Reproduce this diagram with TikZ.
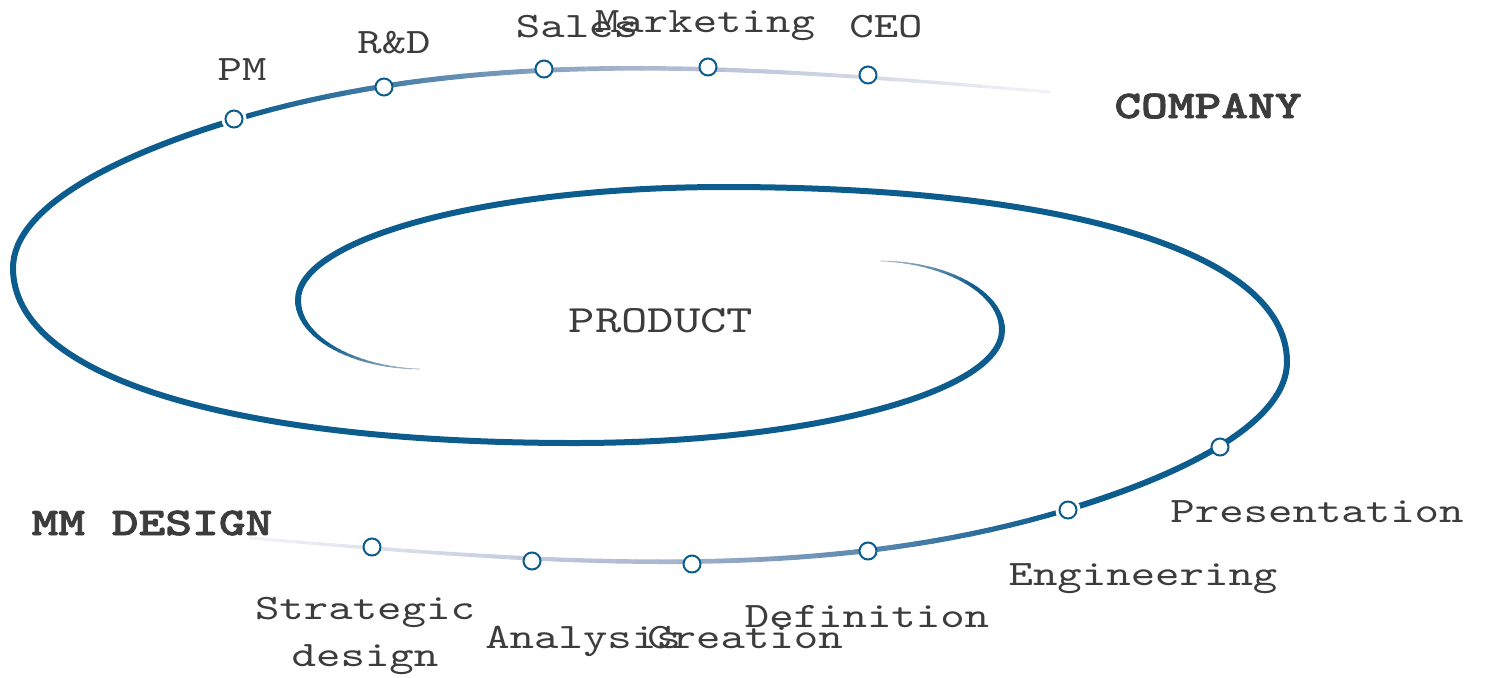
\documentclass[tikz,border=0pt]{standalone}
\usepackage{fontspec}
\newfontfamily\labelfont[Extension=.otf,UprightFont=lmmono10-regular,BoldFont=lmmonolt10-bold,BoldFeatures={FakeBold=2},FakeStretch=1.3]{lmmono10-regular}
\definecolor{spiral}{RGB}{12,92,142}
\definecolor{lavender}{RGB}{169,181,207}
\definecolor{fadeout}{RGB}{245,245,249}
\definecolor{tailgray}{RGB}{190,195,204}
\definecolor{labeltext}{RGB}{60,60,60}
\begin{document}
\begin{tikzpicture}[x=0.5pt,y=-0.5pt,
    stage/.style={circle,draw=spiral,fill=white,line width=1pt,minimum size=8.5pt,inner sep=0pt},
    halo/.style={preaction={draw=white,line width=4pt}},
    tag/.style={text=labeltext,inner sep=0pt,anchor=base,font=\labelfont\fontsize{17.9}{23.5}\selectfont},
    heading/.style={tag,font=\labelfont\bfseries\fontsize{19.6}{24}\selectfont}]
  \useasboundingbox (0,0) rectangle (1485,677);
  \foreach \rot in {0,180}{
    \begin{scope}[rotate around={\rot:(650,315)}]
      \draw[spiral,line width=3pt] (234,120) .. controls (114,156) and (13,208) .. (13,268)
        .. controls (13,378) and (235,443) .. (575,443)
        .. controls (811,443) and (1002,392) .. (1002,330);
      \path (234,120) .. controls (484,45) and (750,66.5) .. (1050,92)
        \foreach \i [evaluate=\i as \t using \i/40] in {0,...,40}{coordinate[pos=\t] (o\i)};
      \path (1002,330) .. controls (1002,292) and (945,262) .. (880,261)
        \foreach \i [evaluate=\i as \t using \i/24] in {0,...,24}{coordinate[pos=\t] (n\i)};
      \foreach \i in {0,...,39}{
        \pgfmathtruncatemacro\j{\i+1}
        \pgfmathtruncatemacro\p{min(100,5*\i)}
        \pgfmathtruncatemacro\q{max(0,5*\i-100)}
        \pgfmathsetmacro\w{2.6-1.2*(\i/40)^2}
        \draw[line width=\w pt,line cap=round,draw=fadeout!\q!lavender!\p!spiral] (o\i) -- (o\j);
      }
      \foreach \i in {0,...,23}{
        \pgfmathtruncatemacro\j{\i+1}
        \pgfmathtruncatemacro\p{max(0,min(100,(\i-10)*100/14))}
        \pgfmathsetmacro\w{3-2.7*\i/24}
        \draw[line width=\w pt,line cap=round,draw=tailgray!\p!spiral] (n\i) -- (n\j);
      }
    \end{scope}
  }
  \node[stage,halo] (pm) at (234,119) {};
  \node[stage] (rnd) at (384,87) {};
  \node[stage] (sales) at (544,69) {};
  \node[stage] (mkt) at (708,67) {};
  \node[stage] (ceo) at (868,75) {};
  \node[stage] (strat) at (372,547) {};
  \node[stage] (analysis) at (532,561) {};
  \node[stage] (creation) at (692,564) {};
  \node[stage] (defn) at (868,551) {};
  \node[stage,halo] (eng) at (1068,510) {};
  \node[stage] (pres) at (1220,447) {};
  \node[tag] (pm-t) at (242,80) {PM};
  \node[tag] (rnd-t) at (394,53) {R\&D};
  \node[tag] (sales-t) at (577,37) {Sales};
  \node[tag] (mkt-t) at (705,32) {Marketing};
  \node[tag] (ceo-t) at (886,37) {CEO};
  \node[heading] (company) at (1208,118) {COMPANY};
  \node[tag,font=\labelfont\fontsize{19.3}{24}\selectfont] (product) at (661,332) {PRODUCT};
  \node[heading] (mmdesign) at (152,535) {MM DESIGN};
  \node[tag,align=center,anchor=north] (strat-t) at (365,597) {Strategic\\design};
  \node[tag] (analysis-t) at (583,648) {Analysis};
  \node[tag] (creation-t) at (745,648) {Creation};
  \node[tag] (defn-t) at (867,627) {Definition};
  \node[tag] (eng-t) at (1143,585) {Engineering};
  \node[tag] (pres-t) at (1317,522) {Presentation};
\end{tikzpicture}
\end{document}
